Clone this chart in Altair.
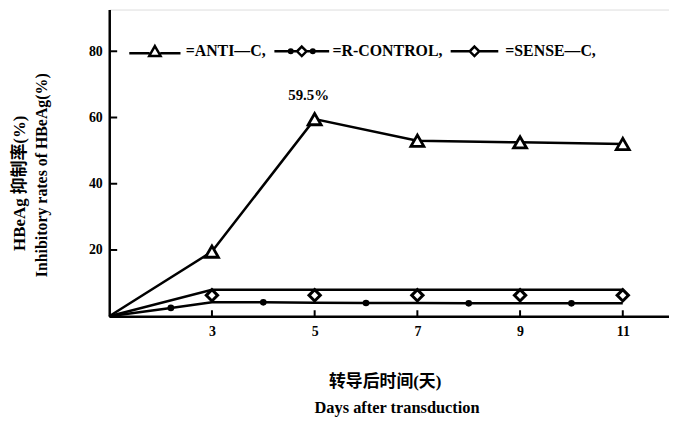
import altair as alt
import pandas as pd

# ---- data ----
anti_days = [1, 3, 5, 7, 9, 11]
anti_vals = [0, 19.5, 59.5, 53, 52.5, 52]

sense_line_days = [1, 3, 5, 7, 9, 11]
sense_line_vals = [0, 8, 8, 8, 8, 8]
sense_mark_days = [3, 5, 7, 9, 11]
sense_mark_vals = [6.3, 6.3, 6.3, 6.3, 6.3]

rc_line_days = [1, 2.2, 3, 4, 5, 6, 7, 8, 9, 10, 11]
rc_line_vals = [0, 2.5, 4.2, 4.2, 4.1, 4.0, 4.0, 3.9, 3.9, 3.9, 3.9]
rc_dot_days = [2.2, 4, 6, 8, 10]
rc_dot_vals = [2.5, 4.2, 4.0, 3.9, 3.9]

x_ticks = [3, 5, 7, 9, 11]
y_ticks = [20, 40, 60, 80]

series_names = ["ANTI—C,", "R-CONTROL,", "SENSE—C,"]
peak_label = ["59.5%"]
x_title = ["转导后时间(天)", "Days after transduction"]
y_title = ["HBeAg 抑制率(%)", "Inhibitory rates of HBeAg(%)"]

FONT = "'Liberation Serif', 'Noto Sans CJK SC'"
W, H = 564, 309

xs = alt.Scale(domain=[1, 11.9], nice=False, zero=False)
ys = alt.Scale(domain=[0, 92.6], nice=False)

x_enc = alt.X("d:Q", scale=xs, axis=alt.Axis(
    values=x_ticks, tickSize=0, labelPadding=8, grid=False,
    domainColor="black", domainWidth=2.5,
    labelFont=FONT, labelFontSize=14, labelFontWeight="bold", labelColor="black",
    title=None))
y_enc = alt.Y("v:Q", scale=ys, axis=alt.Axis(
    values=y_ticks, tickSize=0, labelPadding=7, grid=False,
    domainColor="black", domainWidth=2.5,
    labelFont=FONT, labelFontSize=14, labelFontWeight="bold", labelColor="black",
    title=None))

def df(days, vals):
    return pd.DataFrame({"d": days, "v": vals})

anti_line = alt.Chart(df(anti_days, anti_vals)).mark_line(color="black", strokeWidth=2.5).encode(x=x_enc, y=y_enc)
sense_line = alt.Chart(df(sense_line_days, sense_line_vals)).mark_line(color="black", strokeWidth=2.5).encode(x=x_enc, y=y_enc)
rc_line = alt.Chart(df(rc_line_days, rc_line_vals)).mark_line(color="black", strokeWidth=2.5).encode(x=x_enc, y=y_enc)

anti_pts = alt.Chart(df(anti_days[1:], anti_vals[1:])).mark_point(
    shape="triangle-up", size=170, filled=True, fill="white", stroke="black", strokeWidth=2.8, opacity=1
).encode(x=x_enc, y=y_enc)
sense_pts = alt.Chart(df(sense_mark_days, sense_mark_vals)).mark_point(
    shape="diamond", size=130, filled=True, fill="white", stroke="black", strokeWidth=3, opacity=1
).encode(x=x_enc, y=y_enc)
rc_pts = alt.Chart(df(rc_dot_days, rc_dot_vals)).mark_point(
    shape="circle", size=45, filled=True, color="black", opacity=1
).encode(x=x_enc, y=y_enc)

peak = alt.Chart(pd.DataFrame({"d": [anti_days[2]], "v": [anti_vals[2]], "t": peak_label})).mark_text(
    font=FONT, fontSize=15, fontWeight="bold", color="black", dy=-24, dx=-6
).encode(x=x_enc, y=y_enc, text="t:N")

ytick_rules = alt.Chart(pd.DataFrame({"v": y_ticks})).mark_rule(color="black", strokeWidth=2).encode(
    y=y_enc, x=alt.value(0), x2=alt.value(8))
xtick_rules = alt.Chart(pd.DataFrame({"d": x_ticks})).mark_rule(color="black", strokeWidth=2).encode(
    x=x_enc, y=alt.value(H), y2=alt.value(H - 6))

# axis titles as text (two sizes)
xt_cn = alt.Chart(pd.DataFrame({"t": [x_title[0]]})).mark_text(
    font=FONT, fontSize=17, fontWeight="bold", color="black").encode(
    text="t:N", x=alt.value(278), y=alt.value(375))
xt_en = alt.Chart(pd.DataFrame({"t": [x_title[1]]})).mark_text(
    font=FONT, fontSize=16.5, fontWeight="bold", color="black").encode(
    text="t:N", x=alt.value(290), y=alt.value(402))
yt_cn = alt.Chart(pd.DataFrame({"t": [y_title[0]]})).mark_text(
    font=FONT, fontSize=17, fontWeight="bold", color="black", angle=270).encode(
    text="t:N", x=alt.value(-90), y=alt.value(175))
yt_en = alt.Chart(pd.DataFrame({"t": [y_title[1]]})).mark_text(
    font=FONT, fontSize=16, fontWeight="bold", color="black", angle=270).encode(
    text="t:N", x=alt.value(-68), y=alt.value(167))

# legend symbols: line + marker glyphs
paths = [
    "M-4.3,0.3H-0.9M0.9,0.3H4.3M0,-0.9L0.95,0.75L-0.95,0.75Z",
    "M-4.6,0H-0.8M0.8,0H4.6M0,-0.8L0.8,0L0,0.8L-0.8,0Z"
    "M-2.15,0a0.3,0.3 0 1,0 0.6,0a0.3,0.3 0 1,0 -0.6,0"
    "M1.55,0a0.3,0.3 0 1,0 0.6,0a0.3,0.3 0 1,0 -0.6,0",
    "M-4.0,0H-0.8M0.8,0H4.0M0,-0.8L0.8,0L0,0.8L-0.8,0Z",
]
legend_layer = alt.Chart(pd.DataFrame({"d": [0, 0, 0], "v": [0, 0, 0], "s": series_names})).mark_point(
    clip=True, color="black", filled=False, strokeWidth=2.5, opacity=1
).encode(
    x=x_enc, y=y_enc,
    shape=alt.Shape("s:N", scale=alt.Scale(domain=series_names, range=paths), legend=alt.Legend(
        orient="none", legendX=18, legendY=34, direction="horizontal", title=None,
        symbolSize=144, symbolStrokeWidth=2.5, symbolStrokeColor="black", symbolOpacity=1,
        symbolOffset=20, labelOffset=23, columnPadding=3, padding=0,
        labelFont=FONT, labelFontSize=16, labelFontWeight="bold", labelColor="black",
        labelExpr="'=' + datum.label", labelLimit=300)),
)

chart = alt.layer(
    anti_line, sense_line, rc_line, anti_pts, sense_pts, rc_pts, peak,
    ytick_rules, xtick_rules, xt_cn, xt_en, yt_cn, yt_en, legend_layer
).properties(
    width=W, height=H, autosize=alt.AutoSizeParams(type="none"),
    padding={"left": 102, "top": 0, "right": 0, "bottom": 100}
).configure_view(stroke=None).configure(background="white")

chart.save("out.html", embed_options={"renderer": "svg", "actions": False})
